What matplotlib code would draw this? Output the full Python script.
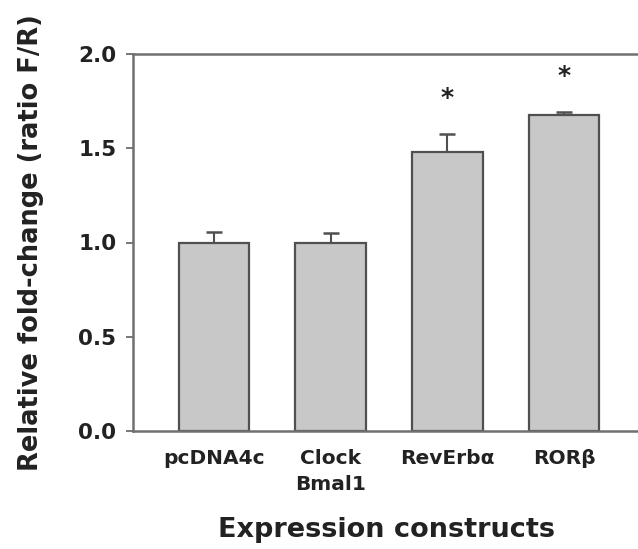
import matplotlib
matplotlib.use("Agg")
import matplotlib.pyplot as plt

categories = ["pcDNA4c", "Clock\nBmal1", "RevErbα", "RORβ"]
values = [1.00, 0.995, 1.48, 1.675]
errors = [0.055, 0.058, 0.095, 0.015]
significant = [False, False, True, True]
yticks = [0.0, 0.5, 1.0, 1.5, 2.0]

plt.rcParams['font.family'] = ['DejaVu Sans']

fig = plt.figure(figsize=(6.38, 5.49), dpi=100)
W, H = 638, 549
ax = fig.add_axes([133 / W, 1 - 431 / H, (638 - 133) / W, (431 - 54) / H])

x = list(range(len(categories)))
ax.bar(x, values, width=0.6, color="#c8c8c8", edgecolor="#505050", linewidth=1.6, zorder=2)
ax.errorbar(x, values, yerr=[[0] * len(errors), errors], fmt="none", ecolor="#505050",
            elinewidth=1.5, capsize=6, capthick=1.8, zorder=1)
for xi, v, e, s in zip(x, values, errors, significant):
    if s:
        ax.text(xi, v + e + 0.13, "*", ha="center", va="bottom", fontsize=18,
                fontweight="bold", color="#222222")

ax.set_xlim(-0.69, 3.63)
ax.set_ylim(0, 2.0)
ax.set_yticks(yticks)
ax.set_yticklabels([f"{t:.1f}" for t in yticks], fontsize=15.5, fontweight="bold", color="#222222")
ax.set_xticks(x)
ax.set_xticklabels(categories, fontsize=14.5, fontweight="bold", color="#222222", linespacing=1.45)
ax.tick_params(axis="x", length=0, pad=13)
ax.tick_params(axis="y", length=5, width=1.2, color="#606060", pad=7)

for side in ["left", "bottom", "top"]:
    ax.spines[side].set_color("#707070")
    ax.spines[side].set_linewidth(1.8)
ax.spines["right"].set_visible(False)

ax.set_ylabel("Relative fold-change (ratio F/R)", fontsize=18.5, fontweight="bold",
              color="#222222")
ax.yaxis.set_label_coords(-0.202, 0.5)
ax.set_xlabel("Expression constructs", fontsize=19.5, fontweight="bold", color="#222222")
ax.xaxis.set_label_coords(0.501, -0.263)
ax.xaxis.label.set_va("center")
ax.yaxis.label.set_va("center")

fig.savefig("out.png", dpi=100)
